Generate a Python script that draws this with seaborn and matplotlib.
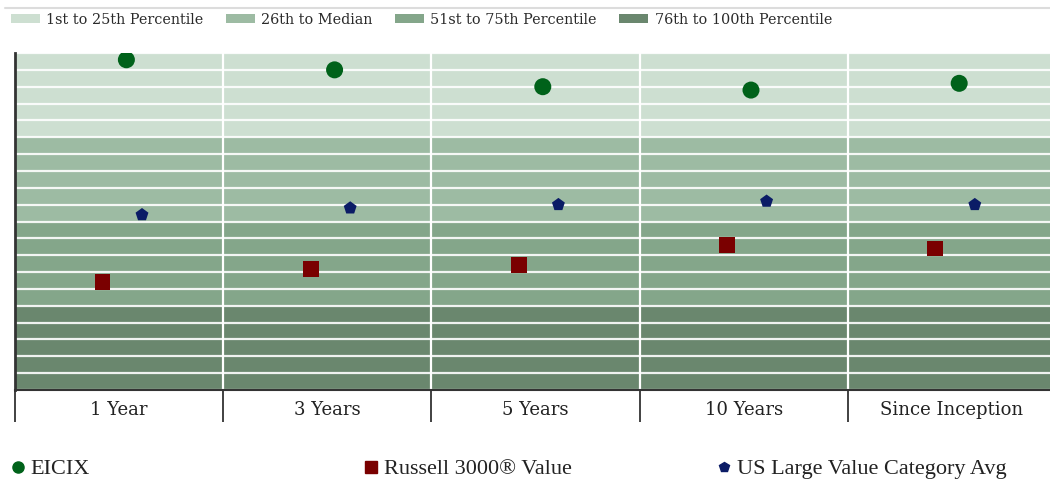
#%%
import pandas as pd
import seaborn as sns
import matplotlib.pyplot as plt
from matplotlib.patches import Patch
from matplotlib.lines import Line2D

# %%
# percentile ranks (lower = better)
periods = ['1 Year', '3 Years', '5 Years', '10 Years', 'Since Inception']
eicix = [2, 5, 10, 11, 9]
russell_3000_value = [68, 64, 63, 57, 58]
category_avg = [48, 46, 45, 44, 45]

band_labels = ['1st to 25th Percentile', '26th to Median', '51st to 75th Percentile', '76th to 100th Percentile']
band_edges = [0, 25, 50, 75, 100]
band_colors = ['#cddfd1', '#9dbba3', '#84a68a', '#6a876e']

series_names = ['EICIX', 'Russell 3000\u00ae Value', 'US Large Value Category Avg']
series_colors = ['#00621a', '#7a0000', '#0b1c66']
series_markers = ['o', 's', 'p']
series_sizes = [150, 130, 95]
series_offsets = [0.035, -0.08, 0.11]

# %%
rows = []
for name, vals, off in zip(series_names, [eicix, russell_3000_value, category_avg], series_offsets):
    for i, (p, v) in enumerate(zip(periods, vals)):
        rows.append({'series': name, 'period': p, 'x': i + off, 'rank': v})
df = pd.DataFrame(rows)

# %%
sns.set_style('white')
plt.rcParams['font.family'] = ['DejaVu Serif']

fig = plt.figure(figsize=(10.5, 4.79), dpi=100)
ax = fig.add_axes([15 / 1050, 89 / 479, 1041 / 1050, 337 / 479])

for lo, hi, c in zip(band_edges[:-1], band_edges[1:], band_colors):
    ax.axhspan(lo, hi, color=c, zorder=0, lw=0)

for name, col, mk, sz in zip(series_names, series_colors, series_markers, series_sizes):
    sns.scatterplot(data=df[df.series == name], x='x', y='rank', color=col, marker=mk,
                    s=sz, edgecolor='none', ax=ax, zorder=3, legend=False)

ax.set_ylim(100, 0)
ax.set_xlim(-0.5, len(periods) - 0.5)
ax.set_yticks(range(0, 101, 5))
ax.set_yticklabels([])
ax.tick_params(axis='y', length=0)
ax.grid(axis='y', color='white', lw=1.6, alpha=0.9)
for b in range(1, len(periods)):
    ax.axvline(b - 0.5, color='white', lw=1.6, zorder=1)

ax.set_xticks(range(len(periods)))
ax.set_xticklabels(periods, fontsize=13, color='#222222')
ax.set_xticks([i - 0.5 for i in range(len(periods) + 1)], minor=True)
ax.tick_params(axis='x', which='major', length=0, pad=8)
ax.tick_params(axis='x', which='minor', bottom=True, length=23, width=1.3, color='#333333', direction='out')
ax.set_xlabel('')
ax.set_ylabel('')
for s in ['top', 'right']:
    ax.spines[s].set_visible(False)
ax.spines['left'].set_color('#333333')
ax.spines['left'].set_linewidth(2)
ax.spines['bottom'].set_color('#333333')
ax.spines['bottom'].set_linewidth(1.5)

# top band legend
band_handles = [Patch(facecolor=c, edgecolor='none') for c in band_colors]
fig.legend(band_handles, band_labels, loc='upper left', bbox_to_anchor=(-0.002, 1.0), ncol=4,
           frameon=False, handlelength=2.0, handleheight=0.6, columnspacing=1.55,
           handletextpad=0.45, labelcolor='#2a2a2a',
           prop={'family': 'DejaVu Serif', 'size': 10.4})
fig.add_artist(Line2D([5 / 1050, 1], [1 - 8 / 479] * 2, color='#dcdcdc', lw=1.5))

# bottom series legends, evenly spaced
for i, (name, col, mk) in enumerate(zip(series_names, series_colors, series_markers)):
    h = Line2D([], [], ls='none', marker=mk, color=col, markersize=8 if mk != 'p' else 7)
    fig.legend([h], [name], loc='center left', bbox_to_anchor=(i * 353 / 1050 - 0.010, 1 - 469 / 479),
               frameon=False, handlelength=0.8, handletextpad=0.15,
               prop={'family': 'Liberation Serif', 'size': 16}, labelcolor='#222222')

fig.savefig('out.png', dpi=100)
